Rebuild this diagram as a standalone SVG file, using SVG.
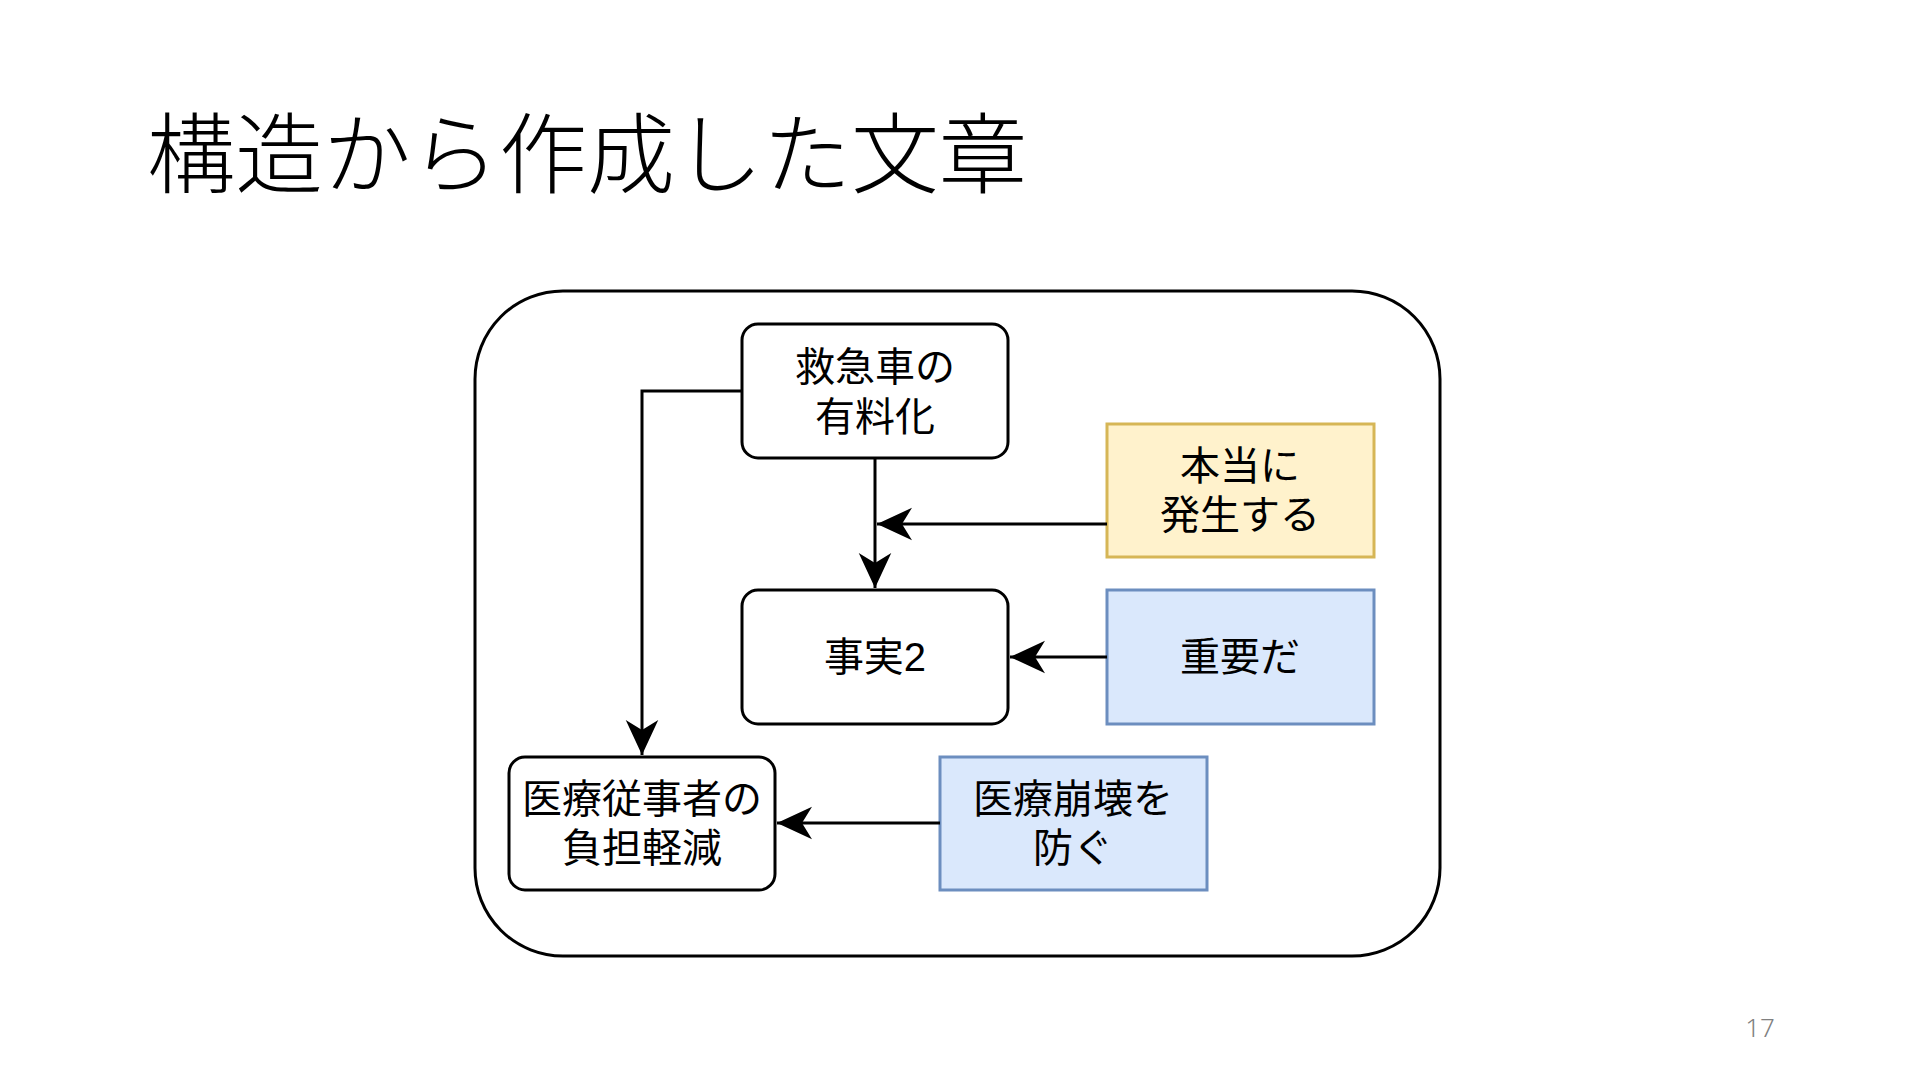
<svg xmlns="http://www.w3.org/2000/svg" width="1920" height="1080" viewBox="0 0 1920 1080">
<style>
.title{font-family:"Noto Sans CJK JP","Noto Sans",sans-serif;font-weight:300;font-size:88px;fill:#000}
.node{stroke:#000;stroke-width:3;fill:#fff}
.yellow{fill:#fff2cc;stroke:#d6b656;stroke-width:3}
.blue{fill:#dae8fc;stroke:#6c8ebf;stroke-width:3}
.lbl{font-family:"Liberation Sans","Noto Sans CJK JP",sans-serif;font-size:40px;fill:#000;text-anchor:middle}
.edge{fill:none;stroke:#000;stroke-width:3}
.pg{font-family:"Noto Sans","Noto Sans CJK JP",sans-serif;font-weight:300;font-size:26px;fill:#808080;text-anchor:middle}
</style>
<defs>
<marker id="arr" markerUnits="userSpaceOnUse" markerWidth="40" markerHeight="40" viewBox="-30 -15 32 30" refX="0" refY="0" orient="auto">
<path d="M0,0 L-28,-13 L-20,0 L-28,13 Z" fill="#000"/>
</marker>
</defs>
<rect width="1920" height="1080" fill="#fff"/>
<text class="title" x="147" y="186">構造から作成した文章</text>
<g id="container"><rect x="475" y="291" width="965" height="665" rx="88" ry="88" fill="none" stroke="#000" stroke-width="3"/></g>
<g id="n1"><rect class="node" x="742" y="324" width="266" height="134" rx="16"/><text class="lbl" x="875" y="381">救急車の</text><text class="lbl" x="875" y="431">有料化</text></g>
<g id="n2"><rect class="node" x="742" y="590" width="266" height="134" rx="16"/><text class="lbl" x="875" y="671">事実2</text></g>
<g id="n3"><rect class="node" x="509" y="757" width="266" height="133" rx="16"/><text class="lbl" x="642" y="813">医療従事者の</text><text class="lbl" x="642" y="862">負担軽減</text></g>
<g id="n4"><rect class="yellow" x="1107" y="424" width="267" height="133"/><text class="lbl" x="1240" y="480">本当に</text><text class="lbl" x="1240" y="529">発生する</text></g>
<g id="n5"><rect class="blue" x="1107" y="590" width="267" height="134"/><text class="lbl" x="1240" y="671">重要だ</text></g>
<g id="n6"><rect class="blue" x="940" y="757" width="267" height="133"/><text class="lbl" x="1073" y="813">医療崩壊を</text><text class="lbl" x="1073" y="862">防ぐ</text></g>
<g id="connectors">
<path class="edge" d="M875,458 L875,588" marker-end="url(#arr)"/>
<path class="edge" d="M1107,524 L877,524" marker-end="url(#arr)"/>
<path class="edge" d="M1107,657 L1010,657" marker-end="url(#arr)"/>
<path class="edge" d="M742,391 L642,391 L642,755" marker-end="url(#arr)"/>
<path class="edge" d="M940,823 L777,823" marker-end="url(#arr)"/>
</g>
<text class="pg" x="1760" y="1037">17</text>
</svg>
